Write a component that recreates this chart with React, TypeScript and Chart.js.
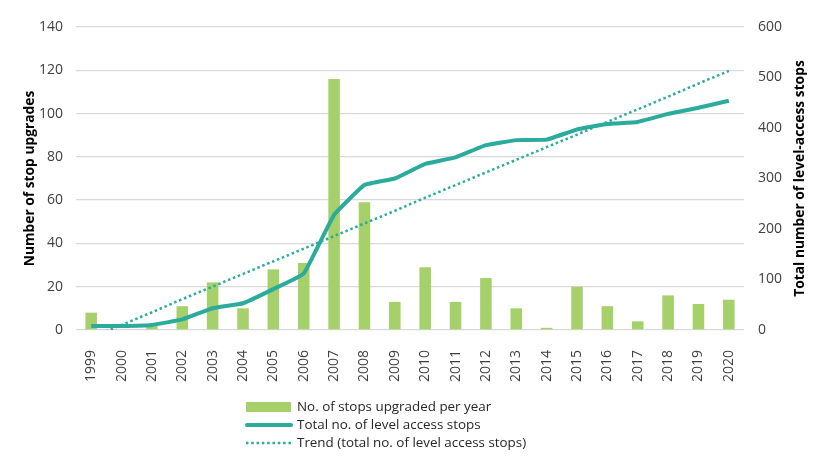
import { useEffect, useRef } from "react";
import { Chart, registerables } from "chart.js";

Chart.register(...registerables);

const years = ["1999","2000","2001","2002","2003","2004","2005","2006","2007","2008","2009","2010","2011","2012","2013","2014","2015","2016","2017","2018","2019","2020"];
const stopsUpgraded = [8,0,2,11,22,10,28,31,116,59,13,29,13,24,10,1,20,11,4,16,12,14];
const totalLevelAccess = [8,8,10,21,43,53,81,112,228,287,300,329,342,366,376,377,397,408,412,428,440,454];
const trendTotal = [-15,10,35,61,86,111,136,161,186,211,236,262,287,312,337,362,387,412,437,462,488,513];
const leftTicks = { min: 0, max: 140, step: 20 };
const rightTicks = { min: 0, max: 600, step: 100 };

const GREEN = "#A5D06A";
const TEAL = "#2AAB9C";
const FONT = "'Open Sans', 'Noto Sans', sans-serif";
const TEXT = "#404040";

const labelsPlugin = {
  id: "customText",
  afterDraw(chart: any) {
    const ctx = chart.ctx;
    const area = chart.chartArea;
    const midY = (area.top + area.bottom) / 2;
    ctx.save();
    ctx.fillStyle = "#000";
    ctx.font = `bold 13.8px ${FONT}`;
    ctx.textAlign = "center";
    ctx.textBaseline = "middle";
    ctx.save();
    ctx.translate(30, midY);
    ctx.rotate(-Math.PI / 2);
    ctx.fillText("Number of stop upgrades", 0, 0);
    ctx.restore();
    ctx.save();
    ctx.translate(800, midY);
    ctx.rotate(-Math.PI / 2);
    ctx.fillText("Total number of level-access stops", 0, 0);
    ctx.restore();

    const lx = 246;
    const tx = 297;
    ctx.font = `13.4px ${FONT}`;
    ctx.textAlign = "left";
    ctx.fillStyle = GREEN;
    ctx.fillRect(lx, 402, 45, 10);
    ctx.fillStyle = "#262626";
    ctx.fillText("No. of stops upgraded per year", tx, 407);

    ctx.strokeStyle = TEAL;
    ctx.lineWidth = 4;
    ctx.lineCap = "round";
    ctx.beginPath();
    ctx.moveTo(lx + 1, 425);
    ctx.lineTo(lx + 45, 425);
    ctx.stroke();
    ctx.fillText("Total no. of level access stops", tx, 425);

    ctx.lineWidth = 2.5;
    ctx.lineCap = "butt";
    ctx.setLineDash([2.5, 2.8]);
    ctx.beginPath();
    ctx.moveTo(lx, 443);
    ctx.lineTo(lx + 46, 443);
    ctx.stroke();
    ctx.setLineDash([]);
    ctx.fillText("Trend (total no. of level access stops)", tx, 443);
    ctx.restore();
  },
};

export default function App() {
  const ref = useRef<HTMLCanvasElement | null>(null);

  useEffect(() => {
    if (!ref.current) return;
    const chart = new Chart(ref.current, {
      type: "bar",
      data: {
        labels: years,
        datasets: [
          {
            type: "line",
            label: "Total no. of level access stops",
            data: totalLevelAccess,
            yAxisID: "y1",
            borderColor: TEAL,
            backgroundColor: TEAL,
            borderWidth: 4,
            pointRadius: 0,
            tension: 0.1,
            order: 0,
          },
          {
            type: "line",
            label: "Trend (total no. of level access stops)",
            data: trendTotal,
            yAxisID: "y1",
            borderColor: TEAL,
            backgroundColor: TEAL,
            borderWidth: 2.5,
            borderDash: [2.5, 2.8],
            pointRadius: 0,
            tension: 0,
            order: 1,
          },
          {
            type: "bar",
            label: "No. of stops upgraded per year",
            data: stopsUpgraded,
            yAxisID: "y",
            backgroundColor: GREEN,
            borderWidth: 0,
            barPercentage: 0.38,
            categoryPercentage: 1,
            order: 2,
          },
        ],
      },
      options: {
        responsive: false,
        animation: false,
        layout: { padding: { top: 27, left: 0, right: 0, bottom: 0 } },
        plugins: {
          legend: { display: false },
          tooltip: { enabled: false },
        },
        scales: {
          x: {
            grid: { display: false },
            border: { display: false },
            ticks: {
              color: TEXT,
              font: { family: FONT, size: 14 },
              minRotation: 90,
              maxRotation: 90,
              padding: 12,
              autoSkip: false,
            },
            afterFit: (s: any) => {
              s.height = 133;
            },
          },
          y: {
            position: "left",
            min: leftTicks.min,
            max: leftTicks.max,
            grid: { color: "#D9D9D9", lineWidth: 1.3, drawTicks: false },
            border: { display: false },
            ticks: {
              stepSize: leftTicks.step,
              color: TEXT,
              font: { family: FONT, size: 14 },
              padding: 13,
            },
            afterFit: (s: any) => {
              s.width = 76;
            },
          },
          y1: {
            position: "right",
            min: rightTicks.min,
            max: rightTicks.max,
            grid: { display: false, drawTicks: false },
            border: { display: false },
            ticks: {
              stepSize: rightTicks.step,
              color: TEXT,
              font: { family: FONT, size: 14 },
              padding: 14,
            },
            afterFit: (s: any) => {
              s.width = 76;
            },
          },
        },
      },
      plugins: [labelsPlugin],
    });
    return () => chart.destroy();
  }, []);

  return (
    <div style={{ position: "fixed", left: 0, top: 0, width: 820, height: 463, background: "#fff" }}>
      <canvas ref={ref} width={820} height={463} style={{ display: "block" }} />
    </div>
  );
}
